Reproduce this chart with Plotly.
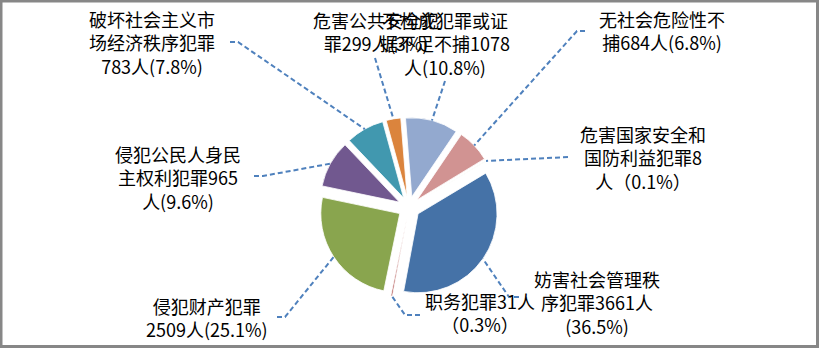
import numpy as np
import plotly.graph_objects as go

# ---------------- data ----------------
categories = ["妨害社会管理秩序犯罪", "职务犯罪", "侵犯财产犯罪", "侵犯公民人身民主权利犯罪",
              "破坏社会主义市场经济秩序犯罪", "危害公共安全犯罪", "不构成犯罪或证据不足不捕",
              "无社会危险性不捕", "危害国家安全和国防利益犯罪"]
counts = [3661, 31, 2509, 965, 783, 299, 1078, 684, 8]
label_texts = [
    "妨害社会管理秩<br>序犯罪3661人<br>(36.5%)",
    "职务犯罪31人<br>（0.3%）",
    "侵犯财产犯罪<br>2509人(25.1%)",
    "侵犯公民人身民<br>主权利犯罪965<br>人(9.6%)",
    "破坏社会主义市<br>场经济秩序犯罪<br>783人(7.8%)",
    "危害公共安全犯<br>罪299人(3%)",
    "不构成犯罪或证<br>据不足不捕1078<br>人(10.8%)",
    "无社会危险性不<br>捕684人(6.8%)",
    "危害国家安全和<br>国防利益犯罪8<br>人（0.1%）",
]

# ---------------- style / layout ----------------
colors = ["#4572A7", "#AA4643", "#89A54E", "#71588F", "#4198AF",
          "#DB843D", "#93A9CF", "#D19392", "#B9CD96"]
W, H = 819, 348
CX, CY, RO = 409, 207.5, 90       # pie centre and outer reach (px)
PULL = 0.14
ROT = 59
# label block centres (px)
label_pos = [(597, 302), (480, 312), (207, 317), (178, 177), (152, 42),
             (376, 31.5), (445, 43), (662, 31), (643, 157.5)]
# leader line points from text side towards the pie (px)
leader_pts = [
    [(519, 297), (509, 297)],
    [(420, 315), (405, 315)],
    [(277, 317), (285, 317)],
    [(254, 176), (263, 176)],
    [(230, 42), (238, 42)],
    [(375, 58)],
    [(445, 81)],
    [(585, 31), (577, 31)],
    [(568, 157)],
]

def px2paper(x, y):
    return x / W, 1 - y / H

fig = go.Figure(go.Pie(
    labels=categories, values=counts, sort=False, direction="clockwise",
    rotation=ROT, pull=[PULL] * len(counts), textinfo="none",
    hoverinfo="skip",
    marker=dict(colors=colors, line=dict(color="white", width=0.8)),
    domain=dict(x=[(CX - RO) / W, (CX + RO) / W],
                y=[(H - CY - RO) / H, (H - CY + RO) / H]),
))

# mid angles of slices (clockwise from 12 o'clock)
vals = np.array(counts, dtype=float)
ang = vals / vals.sum() * 360
start = ROT + np.concatenate([[0], np.cumsum(ang)[:-1]])
mid = np.radians(start + ang / 2)

shapes = []
annotations = []
for i, txt in enumerate(label_texts):
    ox = CX + RO * np.sin(mid[i])
    oy = CY - RO * np.cos(mid[i])
    pts = leader_pts[i] + [(ox, oy)]
    path = ""
    for j, (x, y) in enumerate(pts):
        px, py = px2paper(x, y)
        path += ("M" if j == 0 else " L") + f"{px:.5f},{py:.5f}"
    shapes.append(dict(type="path", xref="paper", yref="paper", path=path,
                       line=dict(color="#4F81BD", width=2, dash="5px,3px")))
    lx, ly = px2paper(*label_pos[i])
    annotations.append(dict(x=lx, y=ly, xref="paper", yref="paper", text=txt,
                            showarrow=False, xanchor="center", yanchor="middle",
                            align="center",
                            font=dict(family="Noto Sans CJK SC", size=18, color="#000000")))

# outer frame
shapes.append(dict(type="rect", xref="paper", yref="paper",
                   x0=1 / W, x1=1 - 1.5 / W, y0=1.5 / H, y1=1 - 1 / H,
                   line=dict(color="#878787", width=3), fillcolor="rgba(0,0,0,0)"))

fig.update_layout(
    width=W, height=H, margin=dict(l=0, r=0, t=0, b=0),
    paper_bgcolor="white", plot_bgcolor="white", showlegend=False,
    shapes=shapes, annotations=annotations,
)

fig.write_html("out.html")
